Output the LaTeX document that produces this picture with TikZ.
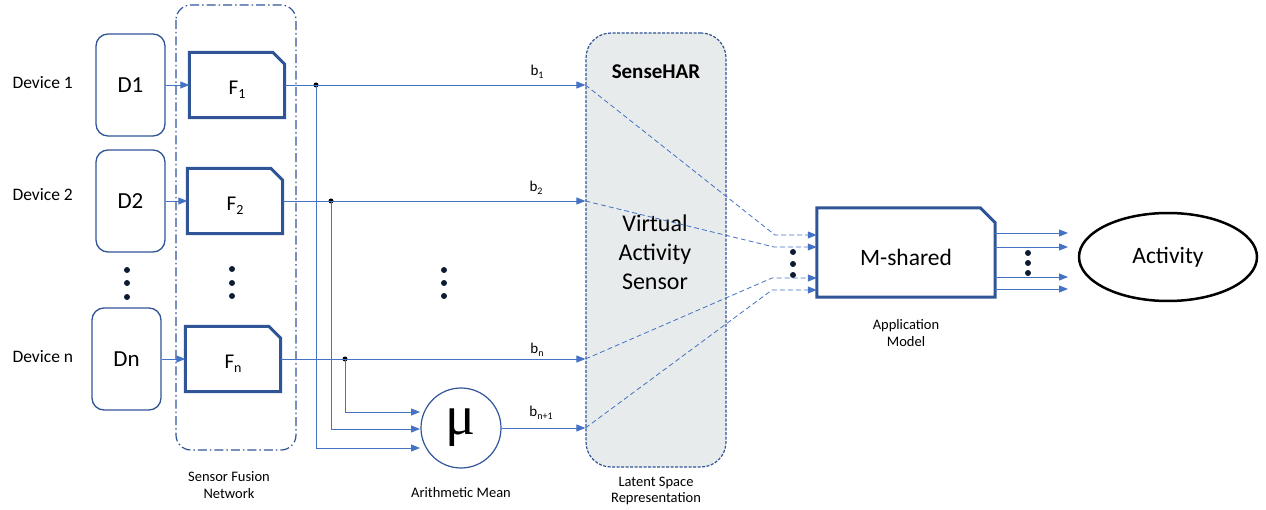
\documentclass[tikz,border=0pt]{standalone}
\usepackage{fontspec}
\setmainfont{Carlito}
\newfontfamily\greekserif{Liberation Serif}
\usetikzlibrary{arrows.meta,shapes.geometric}
\definecolor{navy}{HTML}{2F5597}
\definecolor{wire}{HTML}{4472C4}
\definecolor{latent}{HTML}{E7EBEB}
\definecolor{dotc}{HTML}{0D1A33}
\newcommand\setfs[1]{\fontsize{#1}{#1}\selectfont}
% box with the top-right corner cut off
\newcommand\cutbox[2]{%
  \draw[navy, line width=3pt] (#1.south west) -- (#1.north west)
    -- ([xshift=-#2]#1.north east) -- ([yshift=-#2]#1.north east)
    -- (#1.south east) -- cycle;}
\begin{document}
\begin{tikzpicture}[x=1pt, y=-1pt,
  tip/.tip={Triangle[length=9pt, width=7pt]},
  conn/.style={wire, line width=0.9pt, -tip},
  dconn/.style={wire, line width=0.8pt, dash pattern=on 5pt off 3pt, -tip},
  devlabel/.style={anchor=west, font=\setfs{17.5}},
  devbox/.style={draw=navy, line width=1.3pt, rounded corners=12pt,
    minimum width=69pt, minimum height=102pt, font=\setfs{23}},
  fbox/.style={minimum width=95pt, minimum height=65pt, inner sep=0pt},
  ftext/.style={font=\setfs{21}},
  blabel/.style={font=\setfs{15}},
  caption/.style={font=\setfs{14.5}, align=center},
  jdot/.style={circle, fill=black, inner sep=0pt, minimum size=5pt},
  bigtext/.style={font=\setfs{23.5}, align=center},
]
\useasboundingbox (0,0) rectangle (1266,510);

% devices
\node[devlabel] (lab1) at (9,83) {Device 1};
\node[devlabel] (lab2) at (9,195) {Device 2};
\node[devlabel] (labn) at (9,357) {Device n};
\node[devbox] (D1) at (130.5,85) {D1};
\node[devbox] (D2) at (130.5,201) {D2};
\node[devbox] (Dn) at (126.5,359) {Dn};

% sensor fusion network
\draw[navy, line width=1.2pt, rounded corners=15pt,
  dash pattern=on 9pt off 3pt on 1.5pt off 3pt] (176,5) rectangle (296,450);
\node[fbox] (F1) at (237,85) {};
\node[fbox] (F2) at (235,201) {};
\node[fbox] (Fn) at (233,359) {};
\cutbox{F1}{12pt}
\cutbox{F2}{12pt}
\cutbox{Fn}{12pt}
\node[ftext] (F1t) at ([yshift=-5pt]F1.center) {F\raisebox{-4pt}{\setfs{14}1}};
\node[ftext] (F2t) at ([yshift=-5pt]F2.center) {F\raisebox{-4pt}{\setfs{14}2}};
\node[ftext] (Fnt) at ([yshift=-5pt]Fn.center) {F\raisebox{-4pt}{\setfs{14}n}};
\node[caption] (sfn) at (229,485) {Sensor Fusion\\[3pt]Network};

% vertical ellipsis dots
\foreach \x/\ya/\yb/\yc in {127/270/283/297, 232/269/283/296, 444/270/283/296,
    793/252/264/275, 1028/253/263/273}{
  \foreach \y in {\ya,\yb,\yc}{\fill[dotc] (\x,\y) circle (3pt);}
}

% latent space box
\node[draw=navy, fill=latent, line width=1.2pt, dash pattern=on 3pt off 1.5pt,
  rounded corners=25pt, minimum width=140pt, minimum height=434pt] (S) at (656,250) {};
\node[font=\bfseries\setfs{21}] (title) at (656,72) {SenseHAR};
\node[bigtext, font=\setfs{24}] (vas) at (655,252) {Virtual\\[5pt]Activity\\[5pt]Sensor};
\node[caption] (lsr) at (656,491) {Latent Space\\[2pt]Representation};

\coordinate (in1) at (S.west |- F1.east);
\coordinate (in2) at (S.west |- F2.east);
\coordinate (in3) at (S.west |- Fn.east);

% arithmetic mean
\node[draw=navy, circle, line width=1.2pt, minimum size=80pt, inner sep=0pt] (mu) at (461,428) {};
\node[font=\greekserif\setfs{56}] (mut) at (461,428) {μ};
\node[caption] (amn) at (461,493) {Arithmetic Mean};
\coordinate (in4) at (S.west |- mu.east);
\coordinate (m1) at (420,412);
\coordinate (m2) at (420,429);
\coordinate (m3) at (420,448);

% device to fusion
\draw[conn] (D1.east) -- (F1.west);
\draw[conn] (D2.east) -- (F2.west);
\draw[conn] (Dn.east) -- (Fn.west);

% fusion outputs
\node[jdot] (j1) at (316,85) {};
\node[jdot] (j2) at (331,201) {};
\node[jdot] (j3) at (345,359) {};
\draw[conn] (F1.east) -- (in1);
\draw[conn] (F2.east) -- (in2);
\draw[conn] (Fn.east) -- (in3);
\draw[conn] (j1.center) |- (m3);
\draw[conn] (j2.center) |- (m2);
\draw[conn] (j3.center) |- (m1);
\draw[conn] (mu.east) -- (in4);

\node[blabel] (b1) at (537,72) {b\raisebox{-3pt}{\setfs{10}1}};
\node[blabel] (b2) at (536,188) {b\raisebox{-3pt}{\setfs{10}2}};
\node[blabel] (bn) at (537,350) {b\raisebox{-3pt}{\setfs{10}n}};
\node[blabel] (bn1) at (541,413) {b\raisebox{-3pt}{\setfs{10}n+1}};

% application model
\node[minimum width=178pt, minimum height=89pt, inner sep=0pt] (M) at (906,252.5) {};
\cutbox{M}{15pt}
\node[bigtext] (Mt) at (906,257) {M-shared};
\node[caption] (amd) at (906,333) {Application\\[2pt]Model};

\coordinate (k1) at (775,235);
\coordinate (k2) at (774,247);
\coordinate (k3) at (772,278);
\coordinate (k4) at (772,290);
\draw[dconn] (in1) -- (k1) -- (M.west |- k1);
\draw[dconn] (in2) -- (k2) -- (M.west |- k2);
\draw[dconn] (in3) -- (k3) -- (M.west |- k3);
\draw[dconn] (in4) -- (k4) -- (M.west |- k4);

% activity
\node[draw=black, ellipse, line width=2.5pt, minimum width=178pt, minimum height=88pt,
  font=\setfs{23.5}] (act) at (1168,257) {Activity};
\coordinate (o1) at (1068,233);
\coordinate (o2) at (1068,247);
\coordinate (o3) at (1068,277);
\coordinate (o4) at (1068,289);
\draw[conn] (M.east |- o1) -- (o1);
\draw[conn] (M.east |- o2) -- (o2);
\draw[conn] (M.east |- o3) -- (o3);
\draw[conn] (M.east |- o4) -- (o4);
\end{tikzpicture}
\end{document}
